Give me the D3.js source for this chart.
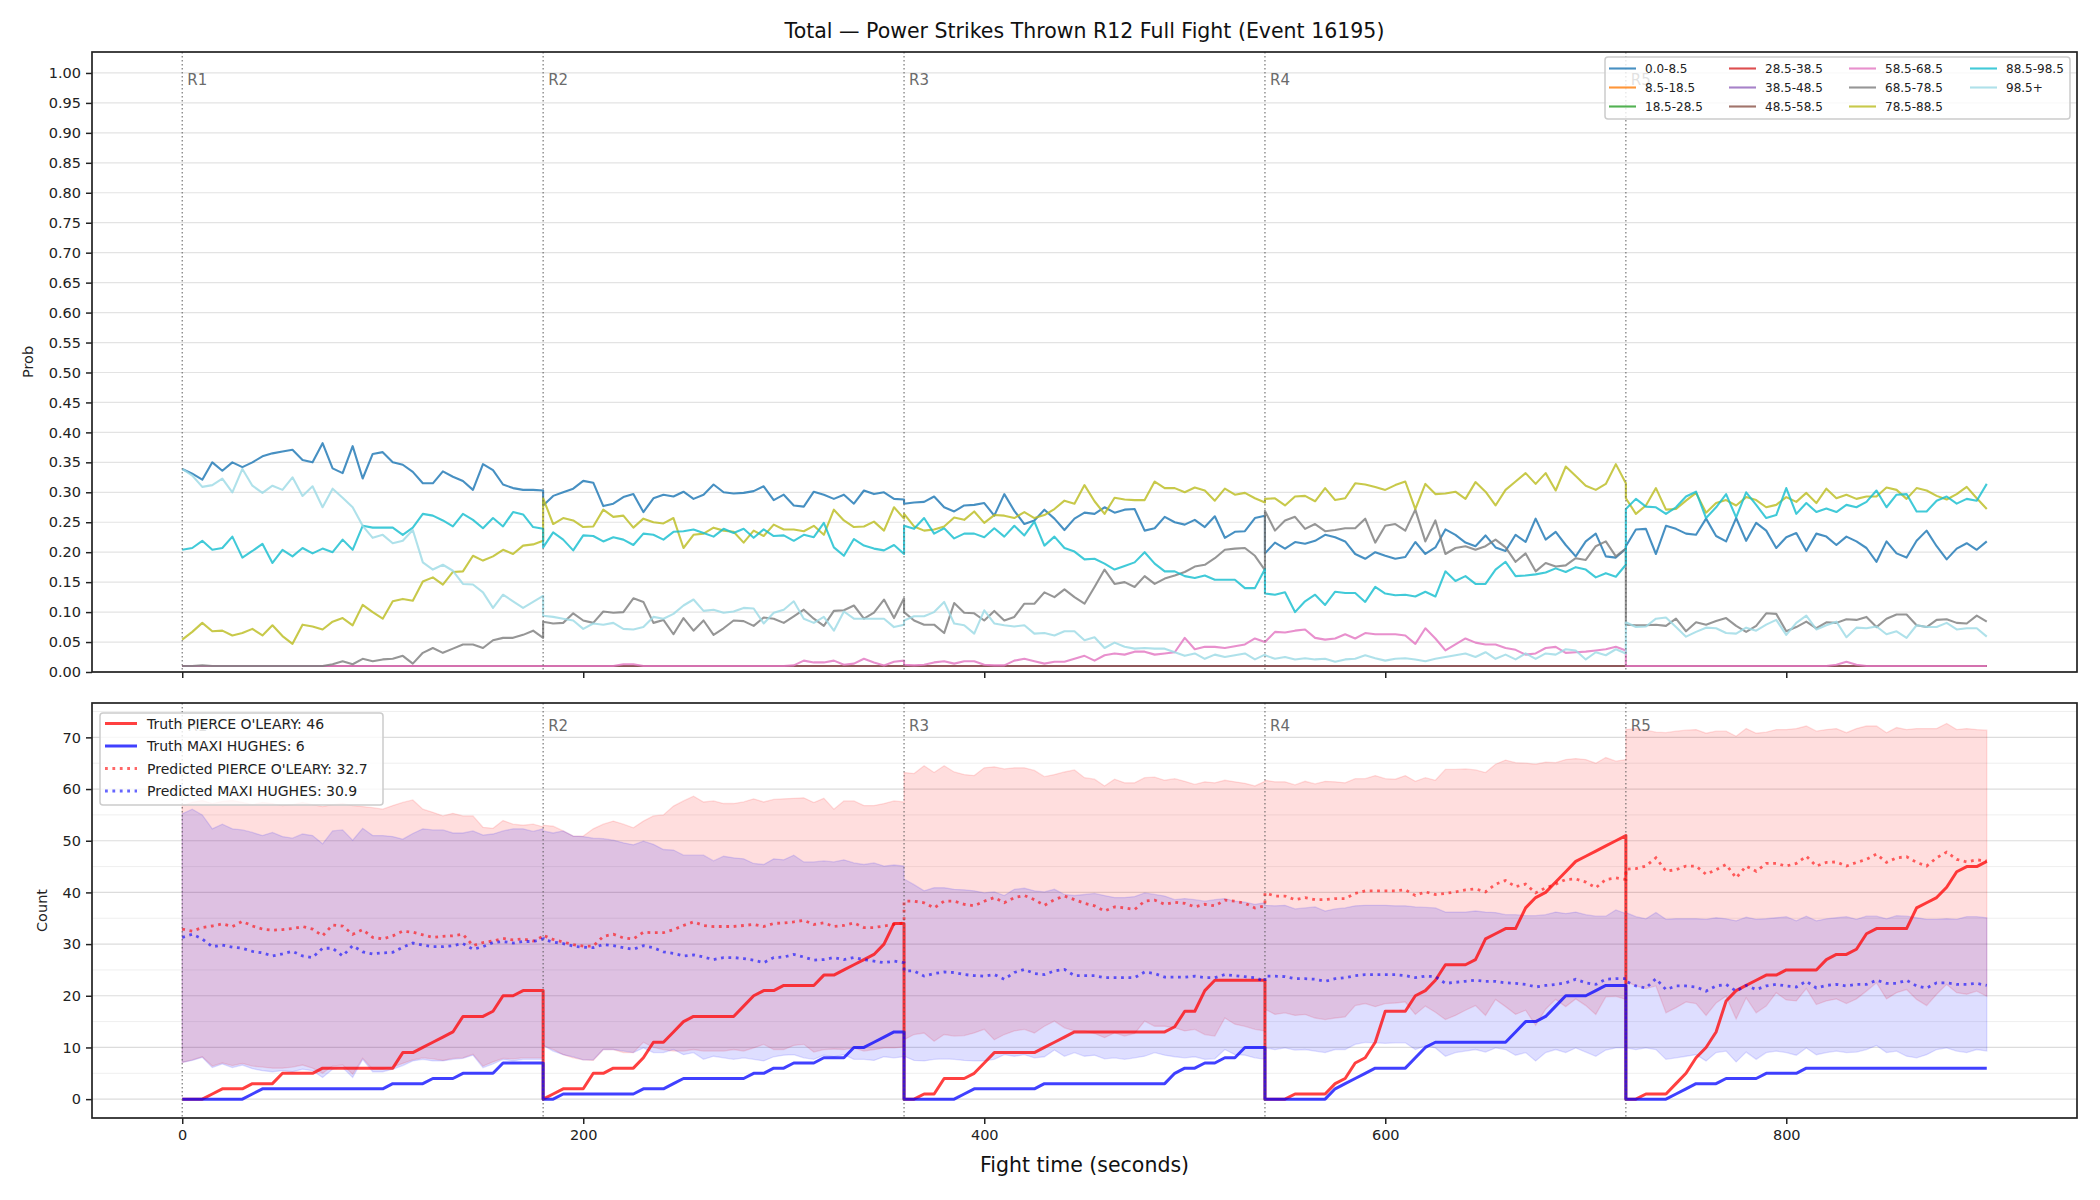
<!DOCTYPE html>
<html><head><meta charset="utf-8">
<script src="https://cdn.jsdelivr.net/npm/d3@7"></script>
<style>body{margin:0;background:#fff}svg{display:block}text{font-family:"DejaVu Sans",sans-serif}</style>
</head><body><svg id="c" width="2100" height="1200"></svg>
<script>
// ---------------- DATA ----------------
const titleText = "Total \u2014 Power Strikes Thrown R12 Full Fight (Event 16195)";
const roundNames = ["R1","R2","R3","R4","R5"];
const roundStarts = [0,180,360,540,720];
const offsets = [0,5,10,15,20,25,30,35,40,45,50,55,60,65,70,75,80,85,90,95,100,105,110,115,120,125,130,135,140,145,150,155,160,165,170,175,180];
const binLabels = ["0.0-8.5","8.5-18.5","18.5-28.5","28.5-38.5","38.5-48.5","48.5-58.5","58.5-68.5","68.5-78.5","78.5-88.5","88.5-98.5","98.5+"];
const xTicks = [0,200,400,600,800];
const probTicks = [0,0.05,0.1,0.15,0.2,0.25,0.3,0.35,0.4,0.45,0.5,0.55,0.6,0.65,0.7,0.75,0.8,0.85,0.9,0.95,1.0];
const countTicks = [0,10,20,30,40,50,60,70];
const countMinor = [5,15,25,35,45,55,65,75];

const flatRound = [0.01,0.01,0.01,0.01,0.01,0.01,0.01,0.01,0.01,0.01,0.01,0.01,0.01,0.01,0.01,0.01,0.01,0.01,0.01,0.01,0.01,0.01,0.01,0.01,0.01,0.01,0.01,0.01,0.01,0.01,0.01,0.01,0.01,0.01,0.01,0.01,0.01];

const p0_8 = [
 [0.339,0.331,0.321,0.35,0.336,0.35,0.342,0.35,0.36,0.365,0.368,0.371,0.354,0.35,0.382,0.34,0.332,0.377,0.323,0.364,0.367,0.35,0.346,0.334,0.315,0.315,0.335,0.326,0.319,0.304,0.347,0.337,0.313,0.307,0.304,0.304,0.303],
 [0.278,0.294,0.30,0.306,0.319,0.316,0.277,0.281,0.292,0.297,0.267,0.29,0.296,0.293,0.301,0.289,0.296,0.313,0.30,0.298,0.299,0.302,0.31,0.287,0.296,0.278,0.276,0.301,0.296,0.289,0.296,0.281,0.303,0.297,0.30,0.289,0.288],
 [0.281,0.283,0.284,0.293,0.275,0.268,0.278,0.279,0.282,0.261,0.297,0.269,0.247,0.253,0.271,0.256,0.237,0.256,0.266,0.264,0.275,0.266,0.271,0.272,0.236,0.24,0.259,0.25,0.246,0.254,0.242,0.26,0.224,0.234,0.235,0.257,0.261],
 [0.198,0.216,0.206,0.217,0.214,0.219,0.229,0.225,0.218,0.197,0.189,0.20,0.194,0.189,0.192,0.217,0.197,0.208,0.238,0.229,0.216,0.21,0.228,0.208,0.202,0.229,0.217,0.256,0.221,0.234,0.212,0.193,0.218,0.231,0.193,0.191,0.206],
 [0.21,0.238,0.239,0.197,0.244,0.239,0.231,0.229,0.256,0.227,0.218,0.257,0.219,0.249,0.236,0.207,0.225,0.232,0.202,0.231,0.226,0.212,0.226,0.218,0.207,0.184,0.218,0.198,0.191,0.219,0.236,0.21,0.188,0.206,0.215,0.204,0.218]];
const p8_18 = [flatRound, flatRound, flatRound, flatRound, flatRound];
const p18_28 = [flatRound, flatRound, flatRound, flatRound, flatRound];
const p28_38 = [flatRound, flatRound, flatRound, flatRound, flatRound];
const p38_48 = [flatRound, flatRound, flatRound, flatRound, flatRound];
const p48_58 = [flatRound, flatRound, flatRound, flatRound, flatRound];
const p58_68 = [
 flatRound,
 [0.01,0.01,0.01,0.01,0.01,0.01,0.01,0.01,0.013,0.013,0.01,0.01,0.01,0.01,0.01,0.01,0.01,0.01,0.01,0.01,0.01,0.01,0.01,0.01,0.01,0.011,0.019,0.016,0.016,0.019,0.012,0.014,0.022,0.016,0.011,0.017,0.019],
 [0.012,0.011,0.012,0.016,0.018,0.014,0.018,0.018,0.012,0.011,0.011,0.019,0.022,0.018,0.014,0.017,0.017,0.022,0.027,0.019,0.028,0.031,0.029,0.034,0.034,0.029,0.031,0.033,0.057,0.038,0.042,0.042,0.04,0.043,0.046,0.056,0.05],
 [0.05,0.067,0.066,0.069,0.071,0.057,0.054,0.056,0.063,0.056,0.065,0.063,0.063,0.063,0.061,0.047,0.073,0.056,0.036,0.046,0.056,0.049,0.046,0.046,0.04,0.037,0.029,0.031,0.04,0.042,0.032,0.033,0.034,0.036,0.038,0.042,0.036],
 [0.01,0.01,0.01,0.01,0.01,0.01,0.01,0.01,0.01,0.01,0.01,0.01,0.01,0.01,0.01,0.01,0.01,0.01,0.01,0.01,0.01,0.012,0.017,0.012,0.01,0.01,0.01,0.01,0.01,0.01,0.01,0.01,0.01,0.01,0.01,0.01,0.01]];
const p68_78 = [
 [0.01,0.01,0.011,0.01,0.01,0.01,0.01,0.01,0.01,0.01,0.01,0.01,0.01,0.01,0.01,0.013,0.018,0.013,0.022,0.018,0.021,0.022,0.027,0.014,0.032,0.04,0.032,0.039,0.046,0.046,0.04,0.053,0.057,0.057,0.062,0.069,0.057],
 [0.084,0.081,0.082,0.098,0.086,0.082,0.101,0.099,0.10,0.123,0.117,0.082,0.087,0.063,0.09,0.069,0.086,0.062,0.073,0.086,0.085,0.077,0.091,0.089,0.082,0.093,0.104,0.089,0.077,0.102,0.103,0.111,0.089,0.099,0.121,0.09,0.123],
 [0.10,0.086,0.079,0.079,0.065,0.115,0.099,0.098,0.086,0.102,0.086,0.092,0.114,0.114,0.133,0.125,0.138,0.125,0.114,0.142,0.171,0.147,0.15,0.142,0.16,0.147,0.156,0.161,0.167,0.176,0.179,0.19,0.204,0.206,0.207,0.194,0.17],
 [0.269,0.236,0.253,0.259,0.239,0.247,0.235,0.237,0.24,0.24,0.256,0.216,0.244,0.247,0.236,0.271,0.218,0.253,0.197,0.207,0.21,0.204,0.21,0.221,0.208,0.184,0.198,0.168,0.182,0.176,0.178,0.19,0.187,0.21,0.218,0.193,0.206],
 [0.079,0.078,0.078,0.079,0.077,0.089,0.068,0.083,0.079,0.085,0.09,0.077,0.067,0.077,0.098,0.097,0.068,0.075,0.084,0.073,0.083,0.082,0.088,0.087,0.092,0.075,0.089,0.096,0.096,0.078,0.075,0.087,0.088,0.082,0.081,0.094,0.084]];
const p78_88 = [
 [0.054,0.067,0.082,0.068,0.069,0.061,0.065,0.072,0.061,0.078,0.06,0.047,0.079,0.076,0.071,0.084,0.09,0.078,0.112,0.10,0.089,0.118,0.122,0.119,0.151,0.158,0.146,0.167,0.168,0.194,0.186,0.193,0.204,0.197,0.211,0.213,0.219],
 [0.29,0.247,0.257,0.253,0.242,0.243,0.271,0.259,0.261,0.241,0.256,0.25,0.248,0.257,0.207,0.229,0.231,0.241,0.236,0.234,0.216,0.236,0.227,0.246,0.238,0.238,0.235,0.244,0.229,0.271,0.253,0.242,0.243,0.251,0.236,0.275,0.256],
 [0.264,0.243,0.236,0.238,0.243,0.258,0.254,0.268,0.249,0.262,0.261,0.257,0.267,0.257,0.262,0.272,0.286,0.281,0.312,0.285,0.264,0.291,0.288,0.287,0.287,0.318,0.307,0.307,0.30,0.308,0.303,0.286,0.306,0.296,0.299,0.29,0.283],
 [0.289,0.29,0.278,0.293,0.294,0.285,0.307,0.287,0.29,0.315,0.313,0.309,0.304,0.312,0.318,0.272,0.314,0.297,0.298,0.301,0.289,0.317,0.301,0.278,0.304,0.318,0.332,0.314,0.332,0.303,0.343,0.327,0.311,0.304,0.314,0.347,0.315],
 [0.29,0.264,0.278,0.307,0.271,0.272,0.286,0.299,0.266,0.282,0.287,0.278,0.292,0.287,0.275,0.279,0.292,0.284,0.299,0.282,0.306,0.29,0.296,0.289,0.293,0.293,0.308,0.304,0.289,0.307,0.303,0.294,0.288,0.297,0.309,0.29,0.272]];
const p88_98 = [
 [0.204,0.207,0.219,0.204,0.207,0.226,0.191,0.202,0.214,0.182,0.204,0.193,0.207,0.198,0.206,0.20,0.221,0.204,0.244,0.241,0.241,0.241,0.229,0.241,0.264,0.261,0.253,0.243,0.264,0.254,0.24,0.257,0.243,0.267,0.263,0.242,0.239],
 [0.208,0.233,0.221,0.203,0.228,0.227,0.218,0.225,0.221,0.212,0.231,0.229,0.221,0.234,0.235,0.238,0.232,0.226,0.239,0.232,0.239,0.224,0.238,0.227,0.228,0.219,0.229,0.225,0.249,0.208,0.194,0.222,0.211,0.206,0.203,0.212,0.197],
 [0.244,0.239,0.257,0.231,0.24,0.223,0.231,0.231,0.225,0.24,0.226,0.244,0.228,0.251,0.211,0.226,0.207,0.201,0.188,0.189,0.181,0.171,0.177,0.183,0.20,0.181,0.168,0.168,0.16,0.157,0.161,0.154,0.154,0.154,0.14,0.14,0.172],
 [0.131,0.129,0.133,0.10,0.118,0.129,0.112,0.134,0.132,0.132,0.117,0.142,0.131,0.128,0.129,0.126,0.134,0.126,0.168,0.152,0.16,0.147,0.147,0.171,0.184,0.16,0.161,0.163,0.166,0.173,0.167,0.175,0.171,0.158,0.165,0.159,0.179],
 [0.272,0.289,0.276,0.275,0.264,0.275,0.293,0.301,0.257,0.275,0.297,0.258,0.30,0.279,0.257,0.262,0.307,0.264,0.282,0.267,0.273,0.267,0.279,0.275,0.284,0.303,0.275,0.296,0.297,0.268,0.268,0.286,0.293,0.281,0.289,0.286,0.314]];
const p98plus = [
 [0.339,0.328,0.309,0.312,0.323,0.30,0.339,0.311,0.299,0.311,0.304,0.325,0.294,0.31,0.275,0.306,0.291,0.275,0.244,0.224,0.229,0.215,0.219,0.237,0.183,0.171,0.179,0.169,0.147,0.146,0.133,0.107,0.129,0.118,0.107,0.117,0.127],
 [0.094,0.092,0.089,0.086,0.072,0.081,0.079,0.082,0.072,0.071,0.075,0.092,0.089,0.097,0.111,0.121,0.102,0.104,0.099,0.101,0.107,0.106,0.081,0.099,0.104,0.118,0.089,0.082,0.092,0.069,0.101,0.089,0.089,0.089,0.089,0.075,0.079],
 [0.086,0.093,0.093,0.10,0.117,0.081,0.078,0.064,0.103,0.081,0.078,0.076,0.078,0.064,0.065,0.061,0.068,0.068,0.053,0.058,0.04,0.049,0.042,0.039,0.04,0.039,0.039,0.033,0.027,0.031,0.022,0.029,0.025,0.028,0.031,0.021,0.029],
 [0.028,0.022,0.025,0.021,0.023,0.021,0.022,0.017,0.021,0.022,0.028,0.023,0.019,0.022,0.023,0.021,0.018,0.022,0.025,0.028,0.031,0.025,0.033,0.022,0.029,0.021,0.031,0.022,0.031,0.029,0.038,0.036,0.021,0.033,0.028,0.038,0.031],
 [0.083,0.075,0.076,0.089,0.091,0.075,0.059,0.067,0.074,0.073,0.065,0.064,0.074,0.069,0.079,0.087,0.062,0.082,0.094,0.071,0.078,0.084,0.058,0.074,0.073,0.076,0.063,0.068,0.057,0.078,0.075,0.075,0.082,0.071,0.073,0.073,0.059]];
const probSeries = [p0_8,p8_18,p18_28,p28_38,p38_48,p48_58,p58_68,p68_78,p78_88,p88_98,p98plus];

const fighterA = "PIERCE O'LEARY";
const fighterB = "MAXI HUGHES";
const finalTruthA = 46, finalTruthB = 6, finalPredA = 32.7, finalPredB = 30.9;

const truthA = [
 [0,0,0,1,2,2,2,3,3,3,5,5,5,5,6,6,6,6,6,6,6,6,9,9,10,11,12,13,16,16,16,17,20,20,21,21,21],
 [0,1,2,2,2,5,5,6,6,6,8,11,11,13,15,16,16,16,16,16,18,20,21,21,22,22,22,22,24,24,25,26,27,28,30,34,34],
 [0,0,1,1,4,4,4,5,7,9,9,9,9,9,10,11,12,13,13,13,13,13,13,13,13,13,13,14,17,17,21,23,23,23,23,23,23],
 [0,0,0,1,1,1,1,3,4,7,8,11,17,17,17,20,21,23,26,26,26,27,31,32,33,33,37,39,40,42,44,46,47,48,49,50,51],
 [0,0,1,1,1,3,5,8,10,13,19,21,22,23,24,24,25,25,25,25,27,28,28,29,32,33,33,33,33,37,38,39,41,44,45,45,46]];
const truthB = [
 [0,0,0,0,0,0,0,1,2,2,2,2,2,2,2,2,2,2,2,2,2,3,3,3,3,4,4,4,5,5,5,5,7,7,7,7,7],
 [0,0,1,1,1,1,1,1,1,1,2,2,2,3,4,4,4,4,4,4,4,5,5,6,6,7,7,7,8,8,8,10,10,11,12,13,13],
 [0,0,0,0,0,0,1,2,2,2,2,2,2,2,3,3,3,3,3,3,3,3,3,3,3,3,3,5,6,6,7,7,8,8,10,10,10],
 [0,0,0,0,0,0,0,2,3,4,5,6,6,6,6,8,10,11,11,11,11,11,11,11,11,13,15,15,16,18,20,20,20,21,22,22,22],
 [0,0,0,0,0,1,2,3,3,3,4,4,4,4,5,5,5,5,6,6,6,6,6,6,6,6,6,6,6,6,6,6,6,6,6,6,6]];
const predA = [
 [32.9,32.5,33.2,33.5,33.9,33.4,34.4,33.5,32.9,32.7,32.8,33.0,33.4,32.9,31.6,33.7,33.5,31.9,32.8,31.3,31.0,31.6,32.5,32.3,31.8,31.3,31.5,31.6,31.9,29.7,30.3,30.6,31.1,30.8,31.0,30.6,31.5],
 [31.7,30.9,30.4,29.9,29.6,29.6,31.5,31.9,31.2,31.0,32.3,32.2,32.2,32.8,33.6,34.3,33.6,33.4,33.4,33.4,33.6,33.8,33.4,34.0,34.1,34.3,34.6,33.8,34.1,33.4,33.6,34.1,33.2,33.2,33.5,33.8,34.1],
 [38.3,38.3,38.0,37.0,38.3,38.3,37.7,37.4,38.3,39.0,38.0,39.0,39.4,38.6,37.5,38.6,39.3,38.6,37.9,37.4,36.4,37.2,37.0,36.7,38.3,38.5,37.7,38.1,37.9,37.2,37.7,37.4,38.5,38.3,37.9,37.0,37.4],
 [39.9,39.3,39.3,38.6,39.0,38.6,38.6,38.8,38.8,39.8,40.3,40.3,40.3,40.3,40.5,39.4,40.1,39.6,39.8,40.1,40.5,40.7,40.1,41.6,42.3,41.1,41.6,39.9,40.9,41.6,42.5,42.6,42.0,40.9,42.5,42.8,42.5],
 [44.5,44.6,45.1,46.7,44.1,44.4,45.1,45.1,43.5,44.4,45.4,42.8,45.1,44.1,45.6,45.6,45.1,45.6,47.0,45.1,45.8,45.9,45.1,45.8,46.4,47.4,45.8,46.7,46.9,45.8,45.1,46.7,47.8,46.4,45.9,46.3,46.1]];
const predB = [
 [31.3,31.9,31.0,29.5,29.8,29.4,29.2,28.6,28.3,27.7,28.1,28.6,27.7,27.4,29.2,29.2,27.7,29.7,28.5,28.1,28.3,28.4,29.4,30.2,29.8,29.5,29.5,29.7,30.1,29.0,29.5,30.3,30.5,30.2,30.5,30.5,31.0],
 [30.9,30.4,30.1,29.6,29.4,29.3,29.9,29.7,29.3,29.0,29.7,29.3,28.5,28.2,27.7,27.9,27.5,27.0,27.4,27.4,27.2,26.9,26.4,27.4,27.5,28.0,27.5,26.9,27.0,27.4,27.0,27.4,27.0,26.7,26.4,26.7,26.4],
 [24.8,24.8,23.8,24.3,24.6,24.5,24.1,23.9,23.8,24.1,23.2,24.5,25.1,24.3,24.1,24.8,25.1,23.9,23.9,23.9,23.5,23.5,23.5,23.5,24.6,24.3,23.6,23.6,23.6,23.8,23.5,23.5,24.1,23.9,23.7,23.5,22.8],
 [23.8,23.8,23.7,23.3,23.3,23.2,22.8,23.3,23.5,23.9,24.1,24.1,24.1,24.1,23.9,23.5,23.8,23.7,22.4,22.6,22.8,23.0,22.8,22.8,22.5,22.4,22.2,21.7,22.0,22.2,22.5,23.2,22.5,22.2,23.2,23.3,23.3],
 [22.8,21.9,21.5,23.3,21.2,21.9,21.9,21.7,20.9,21.9,22.2,20.9,22.0,21.2,21.9,22.2,21.9,21.7,22.8,21.5,22.0,22.2,21.9,22.2,22.2,23.0,22.4,22.4,23.0,21.9,21.5,22.5,22.5,22.2,22.2,22.4,22.0]];
const upperA = [
 [56.8,57.4,57.8,57.2,57.6,57.8,57.4,57.0,57.4,57.2,56.8,57.0,57.4,57.0,56.6,57.0,57.2,56.8,56.6,56.4,56.1,56.8,57.4,57.9,56.1,55.5,54.8,55.3,54.8,54.8,52.6,52.4,53.9,53.2,53.0,53.2,52.7],
 [53.0,52.8,51.9,50.9,50.9,52.3,53.2,53.8,53.2,52.5,53.8,54.8,55.0,56.7,57.7,58.6,57.5,57.7,57.2,57.2,57.5,58.1,57.5,58.0,58.1,58.2,58.3,57.4,58.2,56.1,57.7,57.7,56.8,56.8,57.2,57.7,57.5],
 [63.2,63.0,64.5,63.2,64.5,63.3,62.8,62.6,64.1,64.3,63.9,64.1,64.1,63.6,62.4,62.8,63.3,63.7,62.2,61.9,60.6,61.9,61.2,61.2,62.2,62.3,61.7,62.0,61.5,60.9,61.4,61.2,61.7,61.4,61.1,60.6,61.5],
 [61.7,61.4,61.4,60.8,61.5,61.0,61.5,61.4,61.2,62.0,62.0,62.6,62.0,61.9,62.6,61.5,62.2,61.7,63.8,63.8,63.9,63.7,63.2,64.8,65.6,65.1,65.0,64.8,65.2,65.1,65.7,65.9,65.7,65.0,66.1,65.4,65.7],
 [71.5,71.7,71.4,71.0,70.9,71.2,71.4,71.5,70.8,71.2,71.2,70.2,71.7,70.8,71.0,71.5,71.5,71.7,72.2,71.2,71.5,71.7,70.9,71.7,72.2,72.2,70.9,71.9,71.5,71.7,71.7,71.7,72.7,71.5,71.7,71.5,71.4]];
const lowerA = [
 [7.1,7.6,8.2,6.4,7.0,6.5,6.9,6.4,6.2,6.0,6.0,6.2,6.6,6.0,5.0,6.4,6.6,4.8,7.9,5.8,5.8,6.2,6.9,7.6,8.0,7.8,7.5,7.9,8.0,8.7,6.4,7.2,7.9,7.8,8.0,8.0,8.0],
 [10.4,9.6,8.6,8.0,7.6,7.5,9.6,9.6,9.0,9.0,11.0,10.0,9.6,9.3,9.3,9.6,9.3,9.3,9.3,9.6,9.3,9.9,10.6,9.6,9.6,10.4,10.6,9.1,9.6,9.7,9.6,9.9,9.3,9.6,9.9,9.9,10.1],
 [11.5,12.5,12.8,11.2,12.5,12.2,12.3,12.8,13.5,11.5,12.5,13.2,13.5,12.8,14.1,15.1,13.8,13.2,13.2,12.7,11.9,12.8,12.2,12.7,15.1,14.1,14.1,13.8,13.2,13.5,12.5,12.2,15.7,14.5,14.1,13.5,13.2],
 [17.4,16.4,16.7,16.2,16.4,15.7,15.4,15.7,15.9,18.1,18.5,17.9,18.5,18.6,18.8,16.4,18.0,16.8,15.4,16.2,17.2,18.1,16.2,19.3,17.9,16.4,17.2,14.3,17.4,19.3,17.9,19.4,18.1,16.4,19.8,19.9,19.3],
 [22.8,21.9,21.4,21.9,16.7,17.7,18.8,18.5,16.2,18.6,19.9,15.5,19.6,16.7,18.0,20.6,19.2,19.0,21.4,18.3,19.0,19.4,18.5,19.4,20.9,22.5,19.4,20.6,21.2,19.3,18.1,20.3,22.2,20.6,20.3,20.9,19.9]];
const upperB = [
 [55.2,56.1,55.0,52.3,53.2,52.3,52.1,51.6,51.0,51.6,50.8,50.5,51.3,51.0,49.4,51.9,52.1,50.1,52.4,51.0,51.0,50.8,50.3,51.4,52.3,52.1,52.1,51.5,51.5,51.9,51.1,51.3,51.9,52.3,52.3,51.8,52.3],
 [51.9,51.5,51.9,50.9,50.8,50.5,50.4,50.1,49.6,49.2,49.9,49.3,48.3,48.2,47.2,47.2,47.2,46.1,47.0,46.7,46.5,45.6,45.4,46.5,46.3,47.2,45.9,45.9,46.1,45.9,46.3,45.7,45.4,45.7,45.1,45.3,45.1],
 [42.6,41.5,40.3,40.9,40.9,40.6,40.5,40.3,39.9,40.1,39.4,40.6,40.8,40.3,40.1,40.6,39.6,39.4,39.6,39.8,39.4,39.0,39.0,39.2,39.9,39.6,39.3,38.6,38.8,38.6,38.3,38.6,38.8,38.3,38.1,37.7,38.0],
 [37.5,37.4,37.5,36.8,37.0,37.2,36.4,36.8,37.0,37.4,37.5,37.5,37.5,37.4,37.4,37.2,37.1,37.0,36.2,36.2,36.2,36.4,36.2,36.1,35.7,35.7,35.5,35.5,35.7,36.2,35.9,36.2,35.7,35.4,35.4,36.6,35.9],
 [36.1,35.3,34.9,36.1,34.8,34.9,34.9,34.9,34.8,35.1,34.9,34.5,35.2,34.8,34.9,35.1,35.3,34.5,35.4,34.5,34.9,35.1,35.3,34.8,35.4,35.4,34.9,35.5,35.4,35.1,34.8,34.8,34.9,34.8,35.3,35.3,35.1]];
const lowerB = [
 [7.1,7.5,8.1,6.1,6.8,6.1,6.6,5.9,5.5,5.3,5.5,5.3,5.8,5.5,4.2,5.8,6.1,4.2,7.7,5.3,5.3,5.8,6.5,7.4,7.7,7.4,7.4,7.7,7.9,8.5,6.1,6.8,7.7,7.4,7.7,7.7,7.7],
 [10.4,9.3,8.6,8.2,7.6,7.6,9.6,9.6,9.3,9.0,9.9,9.0,9.0,9.6,8.6,9.0,7.7,8.3,8.0,7.7,8.0,7.7,7.4,8.2,8.5,8.6,8.0,7.7,8.5,8.2,8.6,7.7,7.7,7.5,8.2,8.0,8.2],
 [8.3,7.5,7.4,7.7,7.8,7.7,7.5,7.4,7.4,7.7,8.6,8.3,8.6,8.0,8.2,9.5,8.3,9.0,8.3,8.5,7.8,8.0,7.7,8.0,8.3,9.0,8.5,8.2,8.0,8.2,7.7,7.8,9.6,8.6,8.5,8.0,7.7],
 [9.9,9.6,9.9,9.5,9.6,9.3,9.0,9.6,9.6,10.6,11.0,10.9,10.8,10.9,10.9,9.6,10.3,9.9,8.3,9.0,9.3,9.6,9.1,9.9,9.6,8.5,9.0,7.4,9.0,9.6,9.0,9.9,9.1,8.3,9.5,9.9,9.9],
 [9.9,9.6,9.9,9.6,7.7,8.0,8.3,8.6,7.4,9.0,9.3,7.2,9.1,7.7,9.0,9.3,9.0,8.5,9.9,8.6,9.0,9.3,9.0,9.1,9.6,10.4,9.0,9.3,8.3,8.0,8.6,9.6,9.9,9.3,9.0,9.6,9.3]];

// ---------------- STYLE / LAYOUT ----------------
const palette = ['#1f77b4','#ff7f0e','#2ca02c','#d62728','#9467bd','#8c564b','#e377c2','#7f7f7f','#bcbd22','#17becf','#9edae5'];
const L = 92, R = 2077;
const topBox = {t:52, b:672}, botBox = {t:703, b:1118};
const AX = '#222';

const svg = d3.select('#c');
const x = d3.scaleLinear().domain([-45, 945]).range([L, R]);
const yP = d3.scaleLinear().domain([0, 1.035]).range([topBox.b, topBox.t]);
const yC = d3.scaleLinear().domain([-3.65, 76.65]).range([botBox.b, botBox.t]);

function toPoints(rounds) {
  const out = [];
  rounds.forEach((arr, r) => arr.forEach((v, k) => out.push({t: roundStarts[r] + offsets[k], v})));
  return out;
}
function toBand(lo, hi) {
  const out = [];
  lo.forEach((arr, r) => arr.forEach((v, k) => out.push({t: roundStarts[r] + offsets[k], lo: v, hi: hi[r][k]})));
  return out;
}

const defs = svg.append('defs');
defs.append('clipPath').attr('id','clipTop').append('rect').attr('x',L).attr('y',topBox.t).attr('width',R-L).attr('height',topBox.b-topBox.t);
defs.append('clipPath').attr('id','clipBot').append('rect').attr('x',L).attr('y',botBox.t).attr('width',R-L).attr('height',botBox.b-botBox.t);

// ---------- TOP PANEL ----------
const gTop = svg.append('g');
gTop.selectAll('line.grid').data(probTicks).enter().append('line')
  .attr('x1',L).attr('x2',R).attr('y1',d=>yP(d)).attr('y2',d=>yP(d))
  .attr('stroke','#e3e3e3').attr('stroke-width',1.2);

const topPlot = gTop.append('g').attr('clip-path','url(#clipTop)');
const lineP = d3.line().x(d=>x(d.t)).y(d=>yP(d.v));
probSeries.forEach((s,i) => {
  topPlot.append('path').datum(toPoints(s)).attr('d',lineP)
    .attr('fill','none').attr('stroke',palette[i]).attr('stroke-opacity',0.82)
    .attr('stroke-width',2.1).attr('stroke-linejoin','round');
});
roundStarts.forEach((t,i) => {
  gTop.append('line').attr('x1',x(t)).attr('x2',x(t)).attr('y1',topBox.t).attr('y2',topBox.b)
    .attr('stroke','#555').attr('stroke-width',1.2).attr('stroke-dasharray','1.4,2.6').attr('stroke-opacity',0.8);
  gTop.append('text').attr('x',x(t)+5).attr('y',topBox.t+33).text(roundNames[i])
    .attr('font-size',15).attr('fill','#6b6b6b');
});
// axes
const axL = gTop.append('g').attr('transform',`translate(${L},0)`)
  .call(d3.axisLeft(yP).tickValues(probTicks).tickFormat(d3.format('.2f')).tickSize(6).tickPadding(5));
const axB = gTop.append('g').attr('transform',`translate(0,${topBox.b})`)
  .call(d3.axisBottom(x).tickValues(xTicks).tickFormat('').tickSize(6));
gTop.append('rect').attr('x',L).attr('y',topBox.t).attr('width',R-L).attr('height',topBox.b-topBox.t)
  .attr('fill','none').attr('stroke',AX).attr('stroke-width',1.7);
gTop.append('text').attr('transform',`translate(33,${(topBox.t+topBox.b)/2}) rotate(-90)`)
  .attr('text-anchor','middle').attr('font-size',14.5).attr('fill','#222').text('Prob');

// top legend
const lg = svg.append('g');
lg.append('rect').attr('x',1605).attr('y',57).attr('width',465).attr('height',62).attr('rx',3)
  .attr('fill','#fff').attr('fill-opacity',0.8).attr('stroke','#cccccc').attr('stroke-width',1.5);
const colX = [1609,1729,1849,1970], rowY = [68.5,87.5,106.5];
binLabels.forEach((lab,i) => {
  const c = Math.floor(i/3), r = i%3;
  lg.append('line').attr('x1',colX[c]).attr('x2',colX[c]+27).attr('y1',rowY[r]).attr('y2',rowY[r])
    .attr('stroke',palette[i]).attr('stroke-opacity',0.82).attr('stroke-width',2.1);
  lg.append('text').attr('x',colX[c]+36).attr('y',rowY[r]+4.3).attr('font-size',12).attr('fill','#222').text(lab);
});

// ---------- BOTTOM PANEL ----------
const gBot = svg.append('g');
gBot.selectAll('line.minor').data(countMinor).enter().append('line')
  .attr('x1',L).attr('x2',R).attr('y1',d=>yC(d)).attr('y2',d=>yC(d))
  .attr('stroke','#efefef').attr('stroke-width',1);
gBot.selectAll('line.major').data(countTicks).enter().append('line')
  .attr('x1',L).attr('x2',R).attr('y1',d=>yC(d)).attr('y2',d=>yC(d))
  .attr('stroke','#dcdcdc').attr('stroke-width',1.2);

const botPlot = gBot.append('g').attr('clip-path','url(#clipBot)');
const area = d3.area().x(d=>x(d.t)).y0(d=>yC(d.lo)).y1(d=>yC(d.hi));
botPlot.append('path').datum(toBand(lowerA, upperA)).attr('d',area)
  .attr('fill','#ff0000').attr('fill-opacity',0.13).attr('stroke','#ff0000').attr('stroke-opacity',0.12).attr('stroke-width',1.3);
botPlot.append('path').datum(toBand(lowerB, upperB)).attr('d',area)
  .attr('fill','#0000ff').attr('fill-opacity',0.13).attr('stroke','#0000ff').attr('stroke-opacity',0.12).attr('stroke-width',1.3);

roundStarts.forEach((t,i) => {
  gBot.append('line').attr('x1',x(t)).attr('x2',x(t)).attr('y1',botBox.t).attr('y2',botBox.b)
    .attr('stroke','#555').attr('stroke-width',1.2).attr('stroke-dasharray','1.4,2.6').attr('stroke-opacity',0.8);
  gBot.append('text').attr('x',x(t)+5).attr('y',botBox.t+28).text(roundNames[i])
    .attr('font-size',15).attr('fill','#6b6b6b');
});

const lineC = d3.line().x(d=>x(d.t)).y(d=>yC(d.v));
botPlot.append('path').datum(toPoints(truthA)).attr('d',lineC).attr('fill','none')
  .attr('stroke','#ff0000').attr('stroke-opacity',0.75).attr('stroke-width',3).attr('stroke-linejoin','round');
botPlot.append('path').datum(toPoints(truthB)).attr('d',lineC).attr('fill','none')
  .attr('stroke','#0000ff').attr('stroke-opacity',0.75).attr('stroke-width',3).attr('stroke-linejoin','round');
botPlot.append('path').datum(toPoints(predA)).attr('d',lineC).attr('fill','none')
  .attr('stroke','#ff0000').attr('stroke-opacity',0.6).attr('stroke-width',2.8).attr('stroke-dasharray','2.8,4.6');
botPlot.append('path').datum(toPoints(predB)).attr('d',lineC).attr('fill','none')
  .attr('stroke','#0000ff').attr('stroke-opacity',0.6).attr('stroke-width',2.8).attr('stroke-dasharray','2.8,4.6');

gBot.append('g').attr('transform',`translate(${L},0)`)
  .call(d3.axisLeft(yC).tickValues(countTicks).tickFormat(d3.format('d')).tickSize(6).tickPadding(5));
gBot.append('g').attr('transform',`translate(0,${botBox.b})`)
  .call(d3.axisBottom(x).tickValues(xTicks).tickFormat(d3.format('d')).tickSize(6).tickPadding(6));
gBot.append('rect').attr('x',L).attr('y',botBox.t).attr('width',R-L).attr('height',botBox.b-botBox.t)
  .attr('fill','none').attr('stroke',AX).attr('stroke-width',1.7);
gBot.append('text').attr('transform',`translate(47,${(botBox.t+botBox.b)/2}) rotate(-90)`)
  .attr('text-anchor','middle').attr('font-size',14.5).attr('fill','#222').text('Count');

// bottom legend
const lg2 = svg.append('g');
lg2.append('rect').attr('x',100).attr('y',713).attr('width',283).attr('height',92).attr('rx',3)
  .attr('fill','#fff').attr('fill-opacity',0.8).attr('stroke','#cccccc').attr('stroke-width',1.5);
const leg2 = [
  {label:`Truth ${fighterA}: ${finalTruthA}`, color:'#ff0000', op:0.75, dash:null},
  {label:`Truth ${fighterB}: ${finalTruthB}`, color:'#0000ff', op:0.75, dash:null},
  {label:`Predicted ${fighterA}: ${finalPredA}`, color:'#ff0000', op:0.6, dash:'2.8,4.6'},
  {label:`Predicted ${fighterB}: ${finalPredB}`, color:'#0000ff', op:0.6, dash:'2.8,4.6'}];
const rowY2 = [723.5,746,768.5,791];
leg2.forEach((e,i) => {
  const ln = lg2.append('line').attr('x1',105).attr('x2',137).attr('y1',rowY2[i]).attr('y2',rowY2[i])
    .attr('stroke',e.color).attr('stroke-opacity',e.op).attr('stroke-width',e.dash?2.8:3);
  if (e.dash) ln.attr('stroke-dasharray',e.dash);
  lg2.append('text').attr('x',147).attr('y',rowY2[i]+5).attr('font-size',14).attr('fill','#222').text(e.label);
});

// axis styling
svg.selectAll('.domain').remove();
svg.selectAll('.tick line').attr('stroke',AX).attr('stroke-width',1.5);
svg.selectAll('.tick text').attr('font-size',14.5).attr('fill','#222').attr('font-family','DejaVu Sans');

// titles
svg.append('text').attr('x',(L+R)/2).attr('y',38).attr('text-anchor','middle')
  .attr('font-size',20.5).attr('fill','#111').text(titleText);
svg.append('text').attr('x',(L+R)/2).attr('y',1172).attr('text-anchor','middle')
  .attr('font-size',20.5).attr('fill','#111').text('Fight time (seconds)');
</script></body></html>
